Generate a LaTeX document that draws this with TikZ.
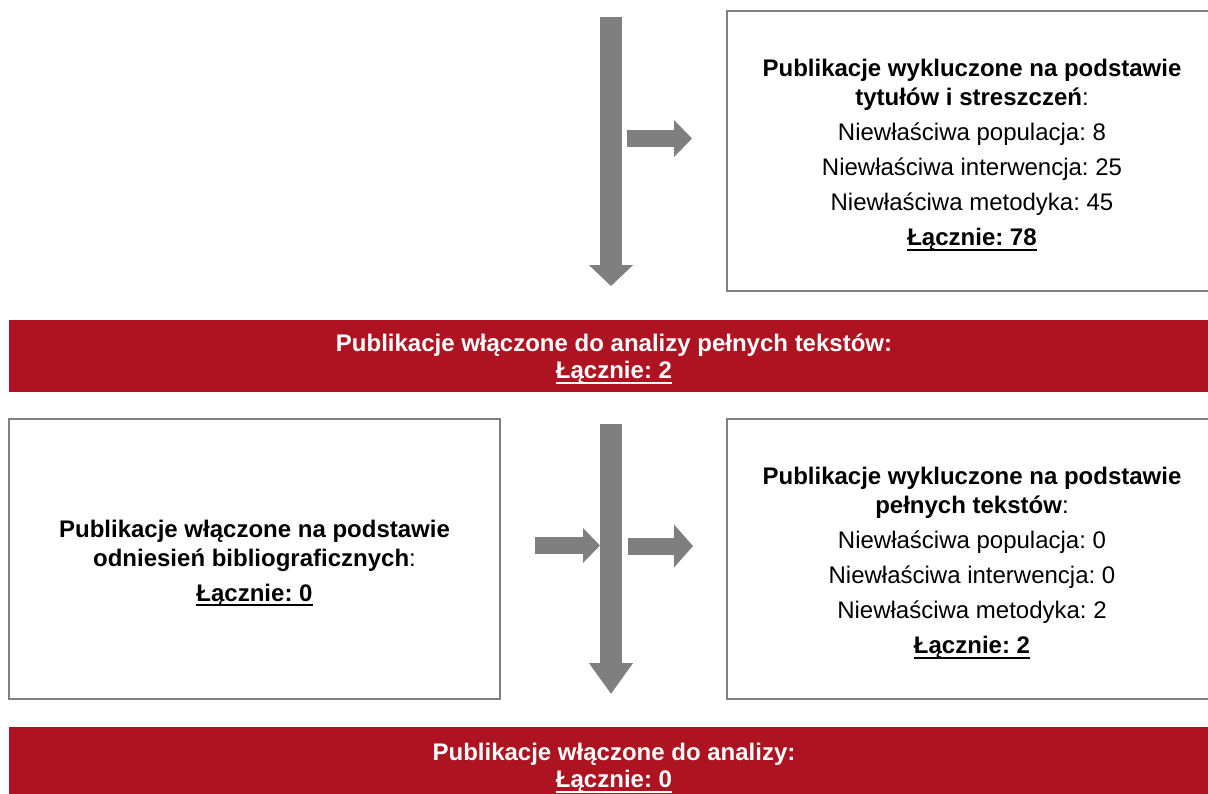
\documentclass[tikz,border=0pt]{standalone}
\usepackage{fontspec}
\setmainfont{Liberation Sans}
\frenchspacing
\usetikzlibrary{arrows.meta}
\definecolor{barred}{RGB}{173,19,32}
\definecolor{arrowgray}{RGB}{127,127,127}
\definecolor{framegray}{RGB}{128,128,128}
\newcommand{\ulsum}[1]{\setbox0=\hbox{#1}\leavevmode\rlap{\rule[-5pt]{\wd0}{2pt}}\box0}
\newcommand{\topstrut}{\rule{0pt}{25pt}}
\tikzset{
  exclbox/.style={
    rectangle, draw=framegray, line width=1.5pt, fill=white,
    text centered, align=center, minimum width=490pt, minimum height=280pt,
    font=\fontsize{24}{29}\selectfont
  },
  inclbar/.style={
    rectangle, fill=barred, text=white,
    text centered, align=center, minimum width=1210pt,
    font=\fontsize{24}{27}\selectfont\bfseries
  },
  flowarr/.style={draw=arrowgray, line width=22pt},
  sidearr/.style={draw=arrowgray, line width=17pt},
}

\begin{document}
\begin{tikzpicture}[x=1pt, y=-1pt]
  \useasboundingbox (0,0) rectangle (1208,793);
  \clip (0,0) rectangle (1208,793);

  % ── nodes ─────────────────────────────────────────────────────────────────
  \node[exclbox] (excltitle) at (972,151)
    {\topstrut\textbf{Publikacje wykluczone na podstawie}\\
     \textbf{tytułów i streszczeń}:\\[6pt]
     Niewłaściwa populacja: 8\\[6pt]
     Niewłaściwa interwencja: 25\\[6pt]
     Niewłaściwa metodyka: 45\\[6pt]
     \textbf{\ulsum{Łącznie: 78}}};
  \node[inclbar, minimum height=72pt] (fulltext) at (614,356)
    {\rule{0pt}{23pt}Publikacje włączone do analizy pełnych tekstów:\\ \ulsum{Łącznie: 2}};
  \node[exclbox, minimum width=491pt] (inclref) at (254.5,559)
    {\topstrut\textbf{Publikacje włączone na podstawie}\\
     \textbf{odniesień bibliograficznych}:\\[6pt]
     \textbf{\ulsum{Łącznie: 0}}};
  \node[exclbox] (exclfull) at (972,559)
    {\topstrut\textbf{Publikacje wykluczone na podstawie}\\
     \textbf{pełnych tekstów}:\\[6pt]
     Niewłaściwa populacja: 0\\[6pt]
     Niewłaściwa interwencja: 0\\[6pt]
     Niewłaściwa metodyka: 2\\[6pt]
     \textbf{\ulsum{Łącznie: 2}}};
  \node[inclbar, minimum height=76pt] (final) at (614,765)
    {\rule{0pt}{23pt}Publikacje włączone do analizy:\\ \ulsum{Łącznie: 0}};

  % arrow ends
  \coordinate (topstart) at (611,17);
  \coordinate (topend)   at (611,286);
  \coordinate (midstart) at (611,424);
  \coordinate (midend)   at (611,694);
  \coordinate (out1s)    at (627,138.5);
  \coordinate (out1e)    at (692,138.5);
  \coordinate (in2s)     at (535,545.5);
  \coordinate (in2e)     at (600,545.5);
  \coordinate (out2s)    at (628,546);
  \coordinate (out2e)    at (693,546);

  % ── edges ─────────────────────────────────────────────────────────────────
  \draw[flowarr, -{Triangle[length=21pt, width=43pt]}] (topstart) -- (topend);
  \draw[flowarr, -{Triangle[length=31pt, width=42pt]}] (midstart) -- (midend);
  \draw[sidearr, -{Triangle[length=18pt, width=36pt]}] (out1s) -- (out1e);
  \draw[sidearr, -{Triangle[length=17pt, width=34pt]}] (in2s)  -- (in2e);
  \draw[sidearr, -{Triangle[length=19pt, width=42pt]}] (out2s) -- (out2e);

\end{tikzpicture}
\end{document}
